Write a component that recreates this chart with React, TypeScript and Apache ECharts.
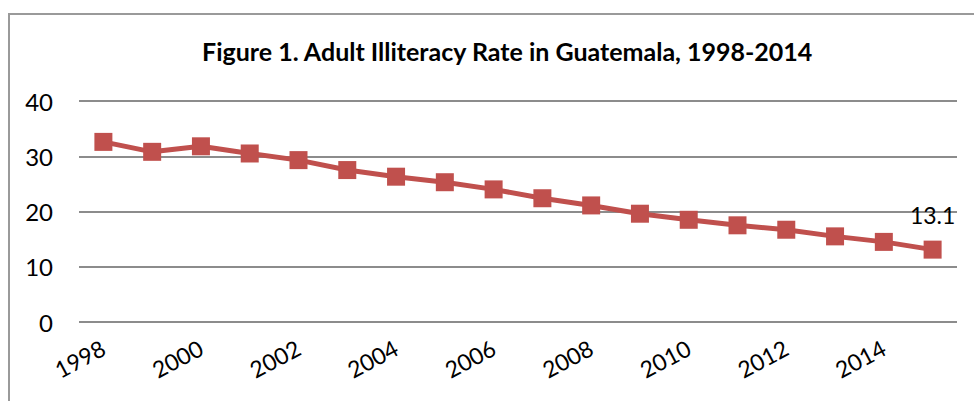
import React, { useEffect, useRef } from "react";
import * as echarts from "echarts";

const years = ["1998","1999","2000","2001","2002","2003","2004","2005","2006","2007","2008","2009","2010","2011","2012","2013","2014","2015"];
const illiteracy = [32.6, 30.8, 31.8, 30.5, 29.3, 27.5, 26.3, 25.3, 24.0, 22.4, 21.1, 19.6, 18.5, 17.5, 16.7, 15.5, 14.5, 13.1];
const yTicks = [0, 10, 20, 30, 40];
const titleText = "Figure 1. Adult Illiteracy Rate in Guatemala, 1998-2014";

const FONT = "Lato, 'Open Sans', sans-serif";

export default function App() {
  const ref = useRef<HTMLDivElement>(null);
  useEffect(() => {
    if (!ref.current) return;
    const chart = echarts.init(ref.current, undefined, { renderer: "svg" });
    const last = illiteracy.length - 1;
    chart.setOption({
      animation: false,
      backgroundColor: "#ffffff",
      title: {
        text: titleText,
        left: 197,
        top: 33,
        textStyle: { fontFamily: FONT, fontWeight: "bold", fontSize: 25, color: "#000" },
      },
      graphic: [
        {
          type: "polyline",
          shape: { points: [[9, 410], [9, 14], [980, 14]] },
          style: { stroke: "#9a9a9a", lineWidth: 2, fill: "none" },
        },
      ],
      grid: { left: 79, right: 17, top: 101, bottom: 79, containLabel: false },
      xAxis: {
        type: "category",
        data: years,
        boundaryGap: true,
        axisLine: { show: false },
        axisTick: { show: false },
        axisLabel: {
          interval: 1,
          rotate: 28,
          margin: 24,
          fontFamily: FONT,
          fontSize: 23,
          color: "#000",
        },
      },
      yAxis: {
        type: "value",
        min: yTicks[0],
        max: yTicks[yTicks.length - 1],
        interval: 10,
        axisLine: { show: false },
        axisTick: { show: false },
        axisLabel: { fontFamily: FONT, fontSize: 24, color: "#000", margin: 26 },
        splitLine: { lineStyle: { color: "#8c8c8c", width: 2 } },
      },
      series: [
        {
          type: "line",
          data: illiteracy.map((v, i) =>
            i === last
              ? {
                  value: v,
                  label: {
                    show: true,
                    position: "top",
                    distance: 14,
                    fontFamily: FONT,
                    fontSize: 23,
                    color: "#000",
                  },
                }
              : v
          ),
          symbol: "rect",
          symbolSize: 18,
          lineStyle: { color: "#C0504D", width: 5 },
          itemStyle: { color: "#C0504D" },
        },
      ],
    });
    return () => chart.dispose();
  }, []);
  return (
    <div
      ref={ref}
      style={{ position: "fixed", left: 0, top: 0, width: 974, height: 401 }}
    />
  );
}
